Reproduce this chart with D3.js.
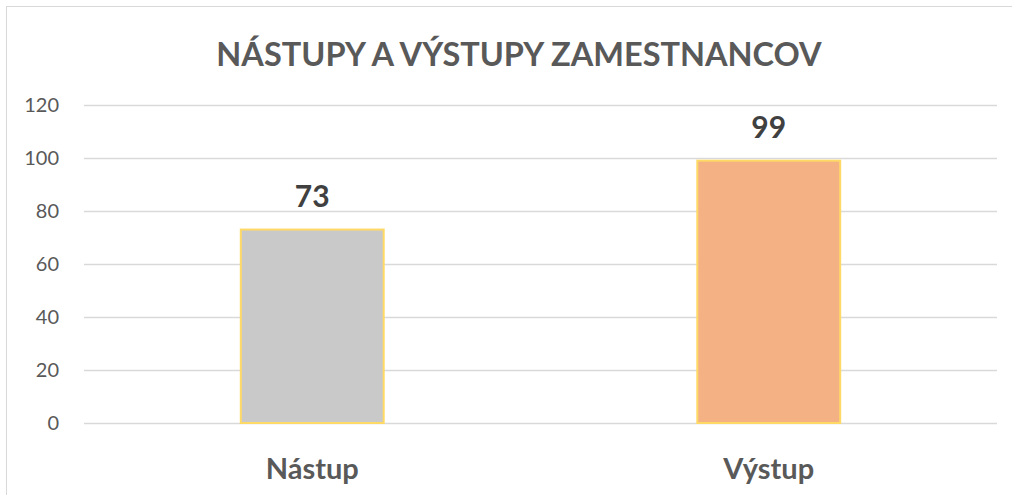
<!DOCTYPE html>
<html><head><meta charset="utf-8">
<script src="https://cdn.jsdelivr.net/npm/d3@7"></script>
<style>body{margin:0;background:#fff}svg{display:block}</style>
</head><body>
<svg id="c" width="1012" height="495"></svg>
<script>
const categories = ["Nástup", "Výstup"];
const values = [73, 99];
const colors = ["#C9C9C9", "#F4B183"];
const yTicks = [0, 20, 40, 60, 80, 100, 120];
const title = "NÁSTUPY A VÝSTUPY ZAMESTNANCOV";

(function () {
const svg = d3.select("#c");
const font = "Lato, 'Open Sans', sans-serif";
const txt = "#595959";

svg.append("rect").attr("x", 6.5).attr("y", 6.5).attr("width", 1100).attr("height", 600)
  .attr("fill", "#fff").attr("stroke", "#D9D9D9").attr("stroke-width", 1);

const pLeft = 84, pRight = 997, pTop = 105, pBottom = 423;
const x = d3.scaleBand().domain(categories).range([pLeft, pRight]).paddingInner(0.687).paddingOuter(0.3435);
const y = d3.scaleLinear().domain([0, 120]).range([pBottom, pTop]);

svg.append("text").attr("x", 519).attr("y", 66).attr("text-anchor", "middle")
  .attr("font-family", font).attr("font-weight", "bold").attr("font-size", 32.5)
  .attr("fill", txt).text(title);

const yAxis = svg.append("g").attr("transform", `translate(${pLeft},0)`)
  .call(d3.axisLeft(y).tickValues(yTicks).tickSize(-(pRight - pLeft)).tickPadding(25));
yAxis.select(".domain").remove();
yAxis.selectAll(".tick line").attr("stroke", "#D9D9D9").attr("stroke-width", 1.5);
yAxis.selectAll(".tick text").attr("font-family", font).attr("font-size", 20).attr("fill", txt);

svg.selectAll(".bar").data(values).enter().append("rect")
  .attr("x", (d, i) => x(categories[i]))
  .attr("width", x.bandwidth())
  .attr("y", d => y(d))
  .attr("height", d => y(0) - y(d))
  .attr("fill", (d, i) => colors[i])
  .attr("stroke", "#FFD966").attr("stroke-width", 2);

svg.selectAll(".lbl").data(values).enter().append("text")
  .attr("x", (d, i) => x(categories[i]) + x.bandwidth() / 2)
  .attr("y", d => y(d) - 23)
  .attr("text-anchor", "middle")
  .attr("font-family", font).attr("font-weight", "bold").attr("font-size", 30)
  .attr("fill", "#404040").text(d => d);

const xAxis = svg.append("g").attr("transform", `translate(0,${pBottom})`)
  .call(d3.axisBottom(x).tickSize(0).tickPadding(35));
xAxis.select(".domain").remove();
xAxis.selectAll(".tick text").attr("font-family", font).attr("font-weight", "bold")
  .attr("font-size", 29).attr("fill", txt);
})();
</script>
</body></html>
